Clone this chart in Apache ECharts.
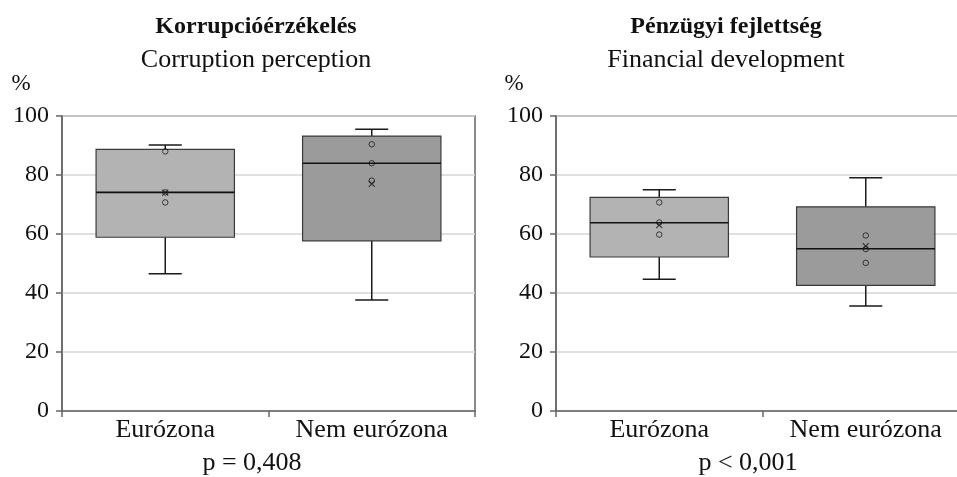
<!DOCTYPE html>
<html><head><meta charset="utf-8">
<script src="https://cdn.jsdelivr.net/npm/echarts@6/dist/echarts.min.js"></script>
<style>html,body{margin:0;padding:0;background:#fff}#c{width:957px;height:477px}</style>
</head><body><div id="c"></div>
<script>
const categories = ['Eurózona', 'Nem eurózona'];
const yTicks = [0, 20, 40, 60, 80, 100];
// [min, Q1, median, Q3, max]
const corruptionBox = [[46.5, 58.9, 74.1, 88.7, 90.2], [37.6, 57.7, 84.0, 93.2, 95.5]];
const corruptionPoints = [[88.0, 74.1, 70.7], [90.4, 84.0, 78.1]];
const corruptionMean = [74.0, 77.0];
const financeBox = [[44.7, 52.2, 63.8, 72.4, 75.0], [35.6, 42.6, 55.0, 69.2, 79.1]];
const financePoints = [[70.7, 63.9, 59.8], [59.5, 54.9, 50.2]];
const financeMean = [63.0, 55.9];
const titles = [['Korrupcióérzékelés', 'Corruption perception', 'p = 0,408'], ['Pénzügyi fejlettség', 'Financial development', 'p < 0,001']];

const FONT = '"Liberation Serif", "Times New Roman", serif';
const fills = ['#b3b3b3', '#9b9b9b'];

function renderBox(params, api) {
  const i = api.value(0);
  const yMin = api.coord([i, api.value(1)])[1];
  const yQ1 = api.coord([i, api.value(2)])[1];
  const yMed = api.coord([i, api.value(3)])[1];
  const yQ3 = api.coord([i, api.value(4)])[1];
  const yMax = api.coord([i, api.value(5)])[1];
  const cx = api.coord([i, api.value(3)])[0];
  const band = api.size([1, 0])[0];
  const half = band * 0.335, cap = band * 0.08;
  const ls = {stroke: '#1a1a1a', lineWidth: 1.5};
  return {type: 'group', children: [
    {type: 'line', shape: {x1: cx, y1: yMax, x2: cx, y2: yQ3}, style: ls},
    {type: 'line', shape: {x1: cx, y1: yQ1, x2: cx, y2: yMin}, style: ls},
    {type: 'line', shape: {x1: cx - cap, y1: yMax, x2: cx + cap, y2: yMax}, style: ls},
    {type: 'line', shape: {x1: cx - cap, y1: yMin, x2: cx + cap, y2: yMin}, style: ls},
    {type: 'rect', shape: {x: cx - half, y: yQ3, width: 2 * half, height: yQ1 - yQ3}, style: {fill: fills[i], stroke: '#3a3a3a', lineWidth: 1.2}},
    {type: 'line', shape: {x1: cx - half, y1: yMed, x2: cx + half, y2: yMed}, style: {stroke: '#111', lineWidth: 1.6}}
  ]};
}

function boxData(box) { return box.map((b, i) => [i].concat(b)); }
function pointData(pts) { const out = []; pts.forEach((arr, i) => arr.forEach(v => out.push([i, v]))); return out; }
function meanData(m) { return m.map((v, i) => [i, v]); }

const grids = [{left: 62, top: 116, width: 413, height: 295}, {left: 556, top: 116, width: 413, height: 295}];
const xAxes = [], yAxes = [], series = [];
const sets = [[corruptionBox, corruptionPoints, corruptionMean], [financeBox, financePoints, financeMean]];
grids.forEach((g, k) => {
  g.show = true; g.borderColor = '#666'; g.borderWidth = 1.5; g.backgroundColor = 'transparent';
  g.containLabel = false; g.outerBoundsMode = 'none';
  xAxes.push({type: 'category', gridIndex: k, data: categories, boundaryGap: true,
    axisLine: {lineStyle: {color: '#666', width: 1.5}},
    axisTick: {show: true, alignWithLabel: false, length: 6, lineStyle: {color: '#666', width: 1.5}},
    axisLabel: {color: '#111', fontFamily: FONT, fontSize: 26, margin: 6}});
  yAxes.push({type: 'value', gridIndex: k, min: 0, max: 100, interval: 20,
    axisLine: {show: true, lineStyle: {color: '#666', width: 1.5}},
    axisTick: {show: true, length: 6, lineStyle: {color: '#666', width: 1.5}},
    splitLine: {show: true, lineStyle: {color: '#d6d6d6', width: 1.5}},
    axisLabel: {color: '#111', fontFamily: FONT, fontSize: 24, margin: 13,
      formatter: v => yTicks.indexOf(v) >= 0 ? String(v) : ''}});
  const [box, pts, mean] = sets[k];
  series.push({type: 'custom', xAxisIndex: k, yAxisIndex: k, data: boxData(box), renderItem: renderBox,
    encode: {x: 0, y: [1, 2, 3, 4, 5]}, z: 2});
  series.push({type: 'scatter', xAxisIndex: k, yAxisIndex: k, data: pointData(pts), symbol: 'circle', symbolSize: 5.5,
    itemStyle: {color: 'rgba(0,0,0,0)', borderColor: '#1a1a1a', borderWidth: 1}, z: 5});
  series.push({type: 'scatter', xAxisIndex: k, yAxisIndex: k, data: meanData(mean), symbol: 'path://M0,0L10,10M10,0L0,10', symbolSize: 6,
    itemStyle: {color: 'rgba(0,0,0,0)', borderColor: '#1a1a1a', borderWidth: 1.2}, z: 6});
});

function txt(text, x, y, size, bold) {
  return {type: 'text', style: {text: text, x: x, y: y, fill: '#111', font: (bold ? 'bold ' : '') + size + 'px ' + FONT,
    textAlign: 'center', align: 'center', textVerticalAlign: 'middle', verticalAlign: 'middle'}};
}
const graphics = [
  txt(titles[0][0], 256, 27, 24, true), txt(titles[0][1], 256, 60, 26, false), txt(titles[0][2], 252, 463, 26, false),
  txt(titles[1][0], 726, 27, 24, true), txt(titles[1][1], 726, 60, 26, false), txt(titles[1][2], 748, 463, 26, false),
  txt('%', 21, 84, 23, false), txt('%', 514, 84, 23, false)
];

const chart = echarts.init(document.getElementById('c'), null, {renderer: 'canvas'});
chart.setOption({animation: false, grid: grids, xAxis: xAxes, yAxis: yAxes, series: series, graphic: graphics});
</script></body></html>
